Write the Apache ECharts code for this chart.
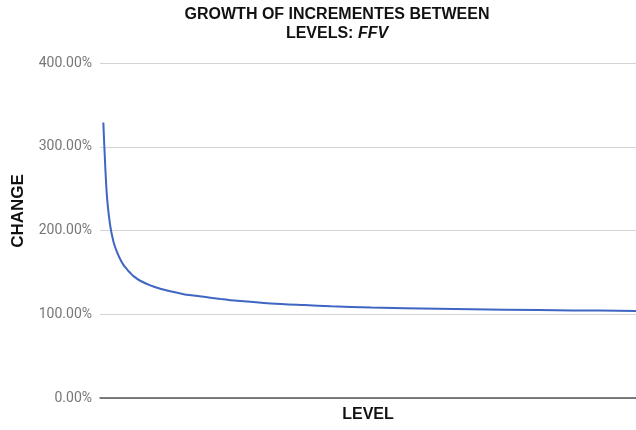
<!DOCTYPE html>
<html>
<head>
<meta charset="utf-8">
<script src="https://cdn.jsdelivr.net/npm/echarts@6/dist/echarts.min.js"></script>
<style>
  html, body { margin: 0; padding: 0; background: #fff; }
  #chart { width: 636px; height: 430px; }
</style>
</head>
<body>
<div id="chart"></div>
<script>
// Level numbers and the growth of the increment from one level to the next (percent)
const levels = [1, 2, 3, 4, 5, 6, 7, 8, 9, 10, 12, 15, 18, 21, 25, 31, 36, 41, 51, 61, 69, 81, 101, 121, 141, 160];
const change = [329, 245, 207, 187, 175, 166, 159, 154, 149.5, 145.5, 140, 134.5, 130.5, 127.5, 124, 120.8, 118.2, 116, 112.8, 110.9, 109.6, 108, 106.5, 105.4, 104.6, 104.0];
const yTicks = [0, 100, 200, 300, 400];

const points = levels.map((l, i) => [l, change[i]]);

const chart = echarts.init(document.getElementById('chart'), null, { renderer: 'canvas' });

chart.setOption({
  animation: false,
  backgroundColor: '#ffffff',
  title: {
    left: 332,
    top: 0,
    textAlign: 'center',
    text: '{a|GROWTH OF INCREMENTES BETWEEN}\n{a|LEVELS: }{b|FFV}',
    textStyle: {
      rich: {
        a: { fontFamily: 'Liberation Sans', fontWeight: 'bold', fontSize: 16, color: '#111', lineHeight: 19 },
        b: { fontFamily: 'Liberation Sans', fontWeight: 'bold', fontStyle: 'italic', fontSize: 16, color: '#111', lineHeight: 19 }
      }
    }
  },
  grid: { left: 100, right: 0, top: 63, bottom: 32, outerBoundsMode: 'none' },
  xAxis: {
    type: 'value',
    min: 0,
    max: 160,
    name: 'LEVEL',
    nameLocation: 'middle',
    nameGap: 9,
    nameTextStyle: { fontFamily: 'Liberation Sans', fontWeight: 'bold', fontSize: 16, color: '#111', verticalAlign: 'top' },
    axisLine: { show: true, lineStyle: { color: '#555', width: 1.5 } },
    axisTick: { show: false },
    axisLabel: { show: false },
    splitLine: { show: false }
  },
  yAxis: {
    type: 'value',
    min: yTicks[0],
    max: yTicks[yTicks.length - 1],
    interval: 100,
    axisLine: { show: false },
    axisTick: { show: false },
    axisLabel: {
      margin: 8,
      fontFamily: 'Roboto',
      fontSize: 14,
      color: '#777',
      formatter: v => v.toFixed(2) + '%'
    },
    splitLine: { lineStyle: { color: '#d4d4d4', width: 1 } }
  },
  graphic: [{
    type: 'text',
    x: 18,
    y: 211,
    rotation: Math.PI / 2,
    style: {
      text: 'CHANGE',
      fontFamily: 'Liberation Sans',
      fontWeight: 'bold',
      fontSize: 17,
      fill: '#111',
      textAlign: 'center',
      textVerticalAlign: 'middle'
    }
  }],
  series: [{
    type: 'line',
    data: points,
    showSymbol: false,
    smooth: 0.3,
    lineStyle: { color: '#3f66c2', width: 2 },
    itemStyle: { color: '#3f66c2' }
  }]
});
</script>
</body>
</html>
